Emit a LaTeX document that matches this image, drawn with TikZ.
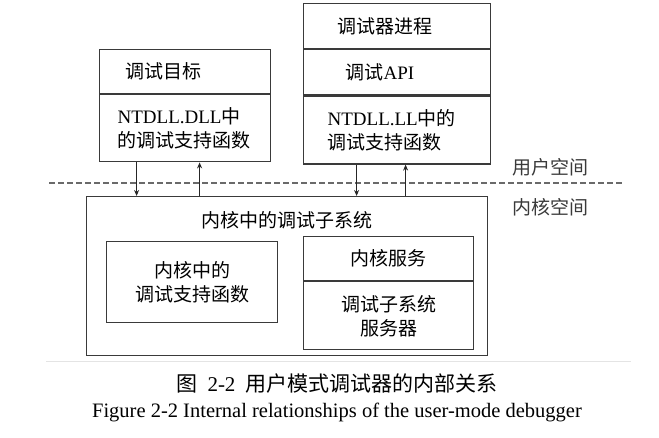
\documentclass[tikz,border=0pt]{standalone}
\usepackage{fontspec}
\setmainfont{Liberation Serif}
\newfontfamily\cjk{Noto Sans CJK SC}
\usetikzlibrary{arrows.meta,positioning}
\definecolor{ink}{HTML}{3A3A3A}
\definecolor{dashgray}{HTML}{6A6A6A}
\definecolor{rulegray}{HTML}{E4E4E4}
\newcommand{\zh}[1]{{\cjk #1}}
\tikzset{
  part/.style={rectangle, draw=ink, line width=1.2pt, inner ysep=0pt,
               font=\fontsize{19}{24}\selectfont, anchor=north west},
  leftpart/.style={part, align=left},
  midpart/.style={part, align=center},
  lbl/.style={font=\fontsize{19}{24}\selectfont, text=ink},
  flow/.style={-{Stealth[length=6pt,width=5pt]}, draw=black!85, line width=1.5pt},
  divide/.style={draw=dashgray, line width=1.1pt, dash pattern=on 6pt off 3pt},
  capzh/.style={font=\fontsize{21}{25}\selectfont},
  capen/.style={font=\fontsize{20.5}{24}\selectfont}
}
\begin{document}
\begin{tikzpicture}[x=1pt, y=-1pt]
 \useasboundingbox (0,0) rectangle (659,437);

 % user-mode side: debug target
 \node[leftpart, inner xsep=26pt, text width=119pt, minimum height=44pt] (tgtA) at (99,49) {\zh{调试目标}};
 \node[leftpart, inner xsep=18pt, text width=135pt, minimum height=67pt] (tgtB) at (tgtA.south west)
   {NTDLL.DLL\zh{中}\\\zh{的调试支持函数}};

 % user-mode side: debugger process
 \node[leftpart, inner xsep=34pt, text width=119pt, minimum height=45pt] (dbgA) at (303,3) {\zh{调试器进程}};
 \node[leftpart, inner xsep=42pt, text width=103pt, minimum height=45pt] (dbgB) at (dbgA.south west) {\zh{调试}API};
 \node[leftpart, inner xsep=24pt, text width=139pt, minimum height=68pt] (dbgC) at (dbgB.south west)
   {NTDLL.LL\zh{中的}\\\zh{调试支持函数}};

 % user / kernel boundary
 \coordinate (sepL) at (49,183);
 \coordinate (sepR) at (622,183);
 \draw[divide] (sepL) -- (sepR);
 \node[lbl] (usr) at (550,167) {\zh{用户空间}};
 \node[lbl] (krn) at (550,207) {\zh{内核空间}};

 % kernel debug subsystem
 \node[part, minimum width=401pt, minimum height=159pt] (kern) at (86,196) {};
 \node[lbl, text=black] (ktitle) at ([yshift=-24pt]kern.north) {\zh{内核中的调试子系统}};
 \node[midpart, inner xsep=19pt, text width=133pt, minimum height=81pt] (ksup) at (106,241)
   {\zh{内核中的}\\\zh{调试支持函数}};
 \node[midpart, text width=150pt, inner xsep=10pt, minimum height=44pt] (ksvA) at (303,236) {\zh{内核服务}};
 \node[midpart, text width=150pt, inner xsep=10pt, minimum height=68pt] (ksvB) at (ksvA.south west)
   {\zh{调试子系统}\\\zh{服务器}};

 \draw[flow] ([xshift=-48.5pt]tgtB.south) -- ([xshift=-48.5pt]tgtB.south |- kern.north);
 \draw[flow] ([xshift=14.5pt]tgtB.south |- kern.north) -- ([xshift=14.5pt]tgtB.south);
 \draw[flow] ([xshift=-40.5pt]dbgC.south) -- ([xshift=-40.5pt]dbgC.south |- kern.north);
 \draw[flow] ([xshift=8.5pt]dbgC.south |- kern.north) -- ([xshift=8.5pt]dbgC.south);

 % caption
 \coordinate (rulL) at (46,361);
 \coordinate (rulR) at (631,361);
 \draw[rulegray, line width=0.8pt] (rulL) -- (rulR);
 \node[capzh] (capA) at (337,384) {\zh{图}\ \ 2-2\ \ \zh{用户模式调试器的内部关系}};
 \node[capen] (capB) at (337,412) {Figure 2-2 Internal relationships of the user-mode debugger};
\end{tikzpicture}
\end{document}
